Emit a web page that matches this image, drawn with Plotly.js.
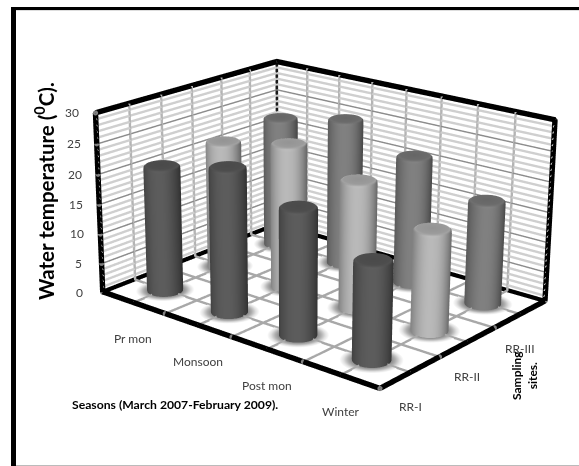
<!DOCTYPE html><html><head><meta charset="utf-8">
<script src="https://cdn.plot.ly/plotly-3.0.1.min.js"></script>
<style>html,body{margin:0;padding:0;width:579px;height:466px;overflow:hidden;background:#fff}#g{position:absolute;left:-579px;top:-466px}</style>
</head><body><div id="g"></div><script>
const seasons=['Pr mon','Monsoon','Post mon','Winter'];
const sites=['RR-I','RR-II','RR-III'];
const zTicks=[0,5,10,15,20,25,30];
const rr1=[21.3,24,20.7,15.8];
const rr2=[22,24.4,21.3,16.6];
const rr3=[22.9,25.3,21.8,17.4];
const values=[rr1,rr2,rr3];
const baseColors=[[88,88,88],[176,176,176],[122,122,122]];

const W=579,H=466,K=3;
const R=0.205;
const px=x=>(x+W*(K-1)/2)/(W*K), py=y=>1-(y+H*(K-1)/2)/(H*K);
const rightV=[0.76,0.65];
const rgb=(c,f)=>'rgb('+c.map(v=>Math.max(0,Math.min(255,Math.round(v*f)))).join(',')+')';
function lathe(cx,cy,rings){
  const N=48,x=[],y=[],z=[],vc=[],i=[],j=[],k=[];
  rings.forEach(r=>{for(let a=0;a<N;a++){const t=a/N*2*Math.PI;
    x.push(cx+r.r*Math.cos(t));y.push(cy+r.r*Math.sin(t));z.push(r.z);
    const s=Math.cos(t)*rightV[0]+Math.sin(t)*rightV[1];vc.push(r.c(s,t));}});
  for(let q=0;q<rings.length-1;q++)for(let a=0;a<N;a++){
    const p=q*N+a,p2=q*N+(a+1)%N,u=p+N,u2=p2+N;
    i.push(p,p);j.push(p2,u2);k.push(u2,u);}
  return {type:'mesh3d',x,y,z,i,j,k,vertexcolor:vc,flatshading:false,hoverinfo:'skip',showscale:false,
    lighting:{ambient:1,diffuse:0,specular:0,roughness:1,fresnel:0}};
}
function bodyShade(s){return 0.66+0.39*(1-Math.pow(Math.abs(s+0.1),2.2));}
function cylinder(cx,cy,h,c){
  const fr=(s,t)=>{const front=-(Math.cos(t)*0.65-Math.sin(t)*0.76);return Math.max(0,front);};
  return lathe(cx,cy,[
    {z:0,r:R,c:s=>rgb(c,bodyShade(s))},
    {z:h-0.75,r:R,c:s=>rgb(c,bodyShade(s))},
    {z:h-0.3,r:R*0.985,c:(s,t)=>rgb(c,bodyShade(s)*1.02+0.12*fr(s,t))},
    {z:h-0.08,r:R*0.9,c:(s,t)=>rgb(c,0.92+0.16*fr(s,t))},
    {z:h,r:R*0.8,c:s=>rgb(c,0.88)},
    {z:h,r:0,c:s=>rgb(c,0.84)}
  ]);
}
function shadow(cx,cy){
  const g=v=>()=>'rgb('+v+','+v+','+v+')';
  return lathe(cx,cy,[
    {z:0,r:0,c:g(140)},{z:0,r:R,c:g(140)},{z:0,r:R*1.2,c:g(175)},{z:0,r:R*1.42,c:g(225)},{z:0,r:R*1.62,c:g(255)}
  ]);
}
function lines(segs,color,width,dash){
  const x=[],y=[],z=[];
  segs.forEach(s=>{s.forEach(p=>{x.push(p[0]);y.push(p[1]);z.push(p[2]);});x.push(null);y.push(null);z.push(null);});
  return {type:'scatter3d',mode:'lines',x,y,z,line:{color,width,dash:dash||'solid'},hoverinfo:'skip',showlegend:false};
}
const XM=seasons.length,YM=sites.length,ZM=30,fz=0.08;
const halfX=[],halfY=[];
for(let v=0.5;v<XM;v+=0.5)halfX.push(v);
for(let v=0.5;v<YM;v+=0.5)halfY.push(v);
const zMinor=[],zMajor=zTicks.slice(1,-1);
for(let v=1;v<ZM;v++)if(v%5)zMinor.push(v);
const traces=[];
values.forEach((row,j)=>row.forEach((v,i)=>{
  traces.push(shadow(i+0.5,j+0.5));
  traces.push(cylinder(i+0.5,j+0.5,v,baseColors[j]));
}));
const LW=2.4;
traces.push(lines(halfX.map(v=>[[v,0,fz],[v,YM,fz]]).concat(halfY.map(v=>[[0,v,fz],[XM,v,fz]])),'#a8a8a8',2*LW));
const wallEps=0.01;
traces.push(lines(zMinor.map(v=>[[wallEps,0,v],[wallEps,YM,v]]).concat(zMinor.map(v=>[[0,YM-wallEps,v],[XM,YM-wallEps,v]])),'#cfcfcf',2*LW));
traces.push(lines(zMajor.map(v=>[[wallEps,0,v],[wallEps,YM,v]]).concat(zMajor.map(v=>[[0,YM-wallEps,v],[XM,YM-wallEps,v]])),'#8c8c8c',1.2*LW));
traces.push(lines(halfY.map(v=>[[wallEps,v,0],[wallEps,v,ZM]]).concat(halfX.map(v=>[[v,YM-wallEps,0],[v,YM-wallEps,ZM]])),'#b4b4b4',2*LW));
traces.push(lines([
  [[0,0,ZM],[0,YM,ZM],[XM,YM,ZM],[XM,YM,0]],
  [[0,0,ZM],[0,0,0]],
  [[0,0,fz],[XM,0,fz],[XM,YM,fz]]
],'#000',4.5*LW));
traces.push(lines([[[0,0,fz],[0,YM,fz],[XM,YM,fz]]],'#000',3.5*LW));
traces.push(lines([[[0.01,YM-0.01,0],[0.01,YM-0.01,ZM]]],'#1a1a1a',2.2*LW));
const tk={x:[],y:[],z:[]};
const addT=(a,b,c)=>{tk.x.push(a);tk.y.push(b);tk.z.push(c);};
zTicks.forEach(v=>addT(0,0,v));
for(let i=1;i<=XM;i++)addT(i,0,fz);
for(let i=1;i<=YM;i++)addT(XM,i,fz);
traces.push({type:'scatter3d',mode:'markers',x:tk.x,y:tk.y,z:tk.z,marker:{size:3,color:'#808080',line:{width:0}},hoverinfo:'skip',showlegend:false});

const tf={family:'Lato, "Open Sans", sans-serif',size:12,color:'#404040'};
const sceneAnn=[];
zTicks.forEach(v=>sceneAnn.push({x:0,y:0,z:v,text:String(v),showarrow:false,xshift:-23,yshift:0,font:tf}));
seasons.forEach((s,i)=>sceneAnn.push({x:i+0.5,y:0,z:0,text:s,showarrow:false,yshift:-36,font:tf}));
sites.forEach((s,i)=>sceneAnn.push({x:XM,y:i+0.5,z:0,text:s,showarrow:false,yshift:-34,font:tf}));

const note=(x,y,text,size,angle)=>({xref:'paper',yref:'paper',x:px(x),y:py(y),xanchor:'center',yanchor:'middle',showarrow:false,text,textangle:angle||0,
  font:{family:'Lato, "Open Sans", sans-serif',size,color:'#000',weight:700},align:'center'});
const rect=(x0,y0,x1,y1,c)=>({type:'rect',xref:'paper',yref:'paper',x0:px(x0),x1:px(x1),y0:py(y0),y1:py(y1),fillcolor:c,line:{width:0},layer:'below'});

Plotly.newPlot('g',traces,{
  width:W*K,height:H*K,margin:{l:0,r:0,t:0,b:0},paper_bgcolor:'#fff',showlegend:false,
  shapes:[rect(11,7,16,466,'#000'),rect(11,7,579,10,'#000'),rect(16,10,579,11,'#ddd'),rect(16,465,579,466,'#bbb')],
  annotations:[
    note(44,191,'Water temperature (<sup>0</sup>C).',20.5,-90),
    note(174.5,404,'Seasons (March 2007-February 2009).',12.2),
    note(524,376,'Sampling<br>sites.',12,-90)
  ],
  scene:{domain:{x:[0,1],y:[0,1]},aspectmode:'manual',aspectratio:{x:0.4142,y:0.3158,z:0.2204},
    camera:{eye:{x:1.1677,y:-1.4270,z:0.6346},center:{x:0.0098,y:-0.0710,z:-0.0086},up:{x:0,y:0,z:1}},
    xaxis:{visible:false,range:[0,XM],autorange:false},
    yaxis:{visible:false,range:[0,YM],autorange:false},
    zaxis:{visible:false,range:[0,ZM],autorange:false},
    hovermode:false,dragmode:false,annotations:sceneAnn}
},{displayModeBar:false});
</script></body></html>
